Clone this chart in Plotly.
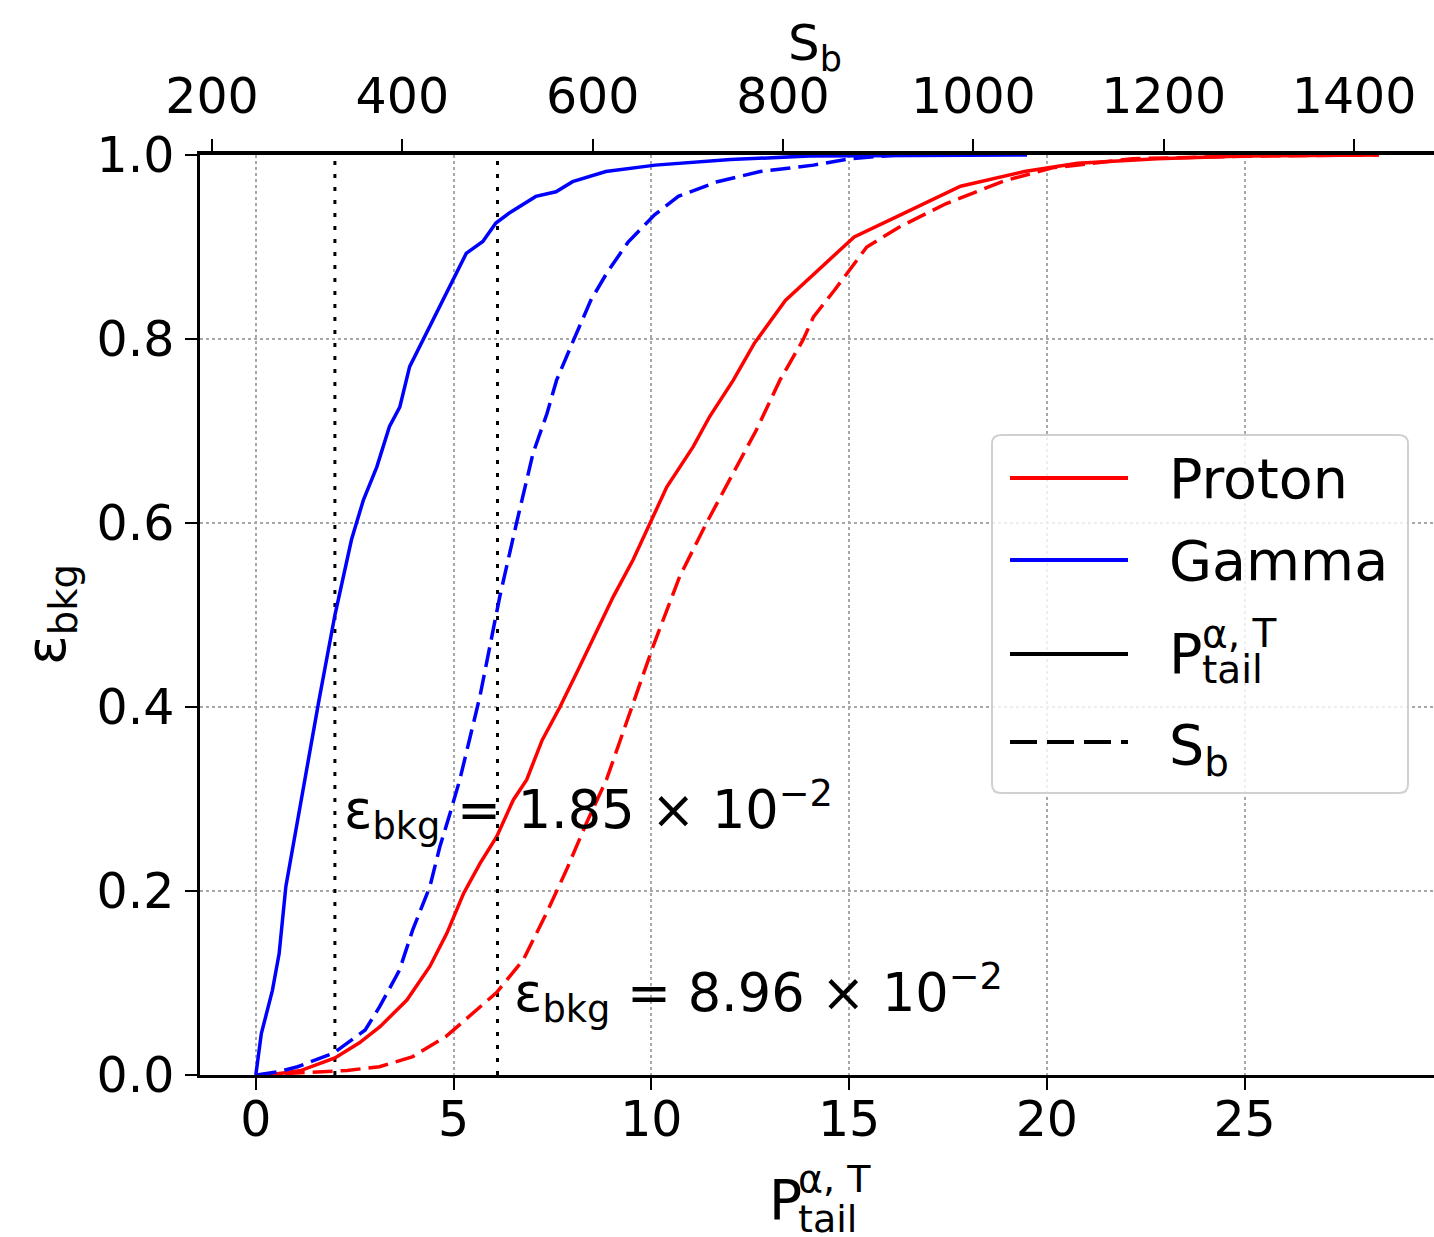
import plotly.graph_objects as go

# ---------------- data ----------------
gamma_p_x = [0, 0.14, 0.42, 0.59, 0.76, 1.04, 1.32, 1.60, 2.0, 2.42, 2.72, 3.06, 3.38, 3.64, 3.89,
             4.23, 4.65, 5.07, 5.32, 5.74, 6.07, 6.41, 7.08, 7.59, 8.01, 8.85, 10.1, 12.0, 14.0, 19.5]
gamma_p_y = [0, 0.045, 0.092, 0.132, 0.205, 0.274, 0.342, 0.408, 0.50, 0.582, 0.625, 0.661, 0.705, 0.726, 0.770,
             0.799, 0.835, 0.871, 0.893, 0.906, 0.926, 0.937, 0.955, 0.960, 0.971, 0.982, 0.989, 0.995, 0.999, 1.0]

gamma_s_x = [247, 272, 290, 328, 361, 376, 397, 411, 429, 439.4, 450, 460.4, 481.4, 502.4, 520, 537.4, 552,
             562, 580, 598, 615, 637, 665, 690, 731, 776, 832, 871, 920]
gamma_s_y = [0, 0.004, 0.009, 0.024, 0.049, 0.074, 0.114, 0.158, 0.205, 0.248, 0.284, 0.321, 0.411, 0.52,
             0.60, 0.676, 0.719, 0.755, 0.799, 0.842, 0.872, 0.905, 0.935, 0.955, 0.971, 0.982, 0.989, 0.996, 1.0]

proton_p_x = [0, 0.5, 1.15, 2.0, 2.62, 3.14, 3.82, 4.4, 4.83, 5.25, 5.67, 6.09, 6.51, 6.85, 7.24, 7.69, 8.19,
              9.04, 9.54, 10.01, 10.39, 11.06, 11.48, 12.07, 12.6, 13.39, 14.33, 15.13, 16.21, 17.82, 19.43,
              20.78, 22.79, 25.0, 28.4]
proton_p_y = [0, 0.001, 0.005, 0.0185, 0.035, 0.0525, 0.0815, 0.118, 0.154, 0.197, 0.23, 0.259, 0.299, 0.321,
              0.364, 0.40, 0.444, 0.52, 0.56, 0.603, 0.639, 0.683, 0.716, 0.755, 0.795, 0.842, 0.879, 0.911, 0.933,
              0.966, 0.982, 0.991, 0.996, 0.999, 1.0]

proton_s_x = [247, 295, 342, 376, 411, 446, 474, 499, 527, 551.5, 572.5, 593.5, 614.5, 639, 663.5, 691.5,
              719.6, 747.5, 772, 796.6, 821, 832, 854, 888, 921, 971, 1033, 1083, 1167, 1300, 1425]
proton_s_y = [0, 0.0025, 0.005, 0.009, 0.02, 0.042, 0.067, 0.0896, 0.125, 0.176, 0.223, 0.274, 0.321, 0.393,
              0.466, 0.542, 0.60, 0.654, 0.701, 0.755, 0.799, 0.824, 0.853, 0.90, 0.921, 0.947, 0.972, 0.986,
              0.996, 0.999, 1.0]

p_cut = 2.0
s_cut = 500
eff_p_text = "ε<sub>bkg</sub> = 1.85 × 10<sup>−2</sup>"
eff_s_text = "ε<sub>bkg</sub> = 8.96 × 10<sup>−2</sup>"

x_ticks = [0, 5, 10, 15, 20, 25]
x2_ticks = [200, 400, 600, 800, 1000, 1200, 1400]
y_ticks = [0.0, 0.2, 0.4, 0.6, 0.8, 1.0]

legend_labels = ["Proton", "Gamma"]

# ---------------- layout geometry ----------------
W, H = 1434, 1237
L, R, T, B = 200, 0, 155, 162
PW, PH = W - L - R, H - T - B
FONT = "DejaVu Sans"
RED, BLUE = "#ff0000", "#0000ff"
LW = 3.5
DASH = "20px,8px"


def px(x):
    return (x - L) / PW


def py(y):
    return (H - B - y) / PH


fig = go.Figure()

# vertical cut lines
fig.add_trace(go.Scatter(x=[p_cut, p_cut], y=[0, 1], mode="lines", xaxis="x", yaxis="y",
                         line=dict(color="black", width=3, dash="4px,9px"), showlegend=False))
fig.add_trace(go.Scatter(x=[s_cut, s_cut], y=[0, 1], mode="lines", xaxis="x2", yaxis="y",
                         line=dict(color="black", width=3, dash="4px,9px"), showlegend=False))

fig.add_trace(go.Scatter(x=proton_p_x, y=proton_p_y, mode="lines", xaxis="x", yaxis="y",
                         line=dict(color=RED, width=LW), showlegend=False))
fig.add_trace(go.Scatter(x=gamma_p_x, y=gamma_p_y, mode="lines", xaxis="x", yaxis="y",
                         line=dict(color=BLUE, width=LW), showlegend=False))
fig.add_trace(go.Scatter(x=proton_s_x, y=proton_s_y, mode="lines", xaxis="x2", yaxis="y",
                         line=dict(color=RED, width=LW, dash=DASH), showlegend=False))
fig.add_trace(go.Scatter(x=gamma_s_x, y=gamma_s_y, mode="lines", xaxis="x2", yaxis="y",
                         line=dict(color=BLUE, width=LW, dash=DASH), showlegend=False))

tickfont = dict(family=FONT, size=49, color="black")
grid = dict(showgrid=True, gridcolor="#a8a8a8", gridwidth=2, griddash="3px,3px")

fig.update_layout(
    width=W, height=H,
    margin=dict(l=L, r=R, t=T, b=B, pad=0),
    paper_bgcolor="white", plot_bgcolor="white",
    showlegend=False,
    font=dict(family=FONT, color="black"),
    xaxis=dict(range=[-1.411, 29.79], tickvals=x_ticks, ticks="outside", ticklen=12, tickwidth=2,
               tickcolor="black", showline=True, linecolor="black", linewidth=2.5, zeroline=False,
               tickfont=tickfont, ticklabelstandoff=-13, **grid),
    xaxis2=dict(range=[187.4, 1484], tickvals=x2_ticks, overlaying="x", side="top", anchor="y",
                ticks="outside", ticklen=12, tickwidth=2, tickcolor="black", showline=True,
                linecolor="black", linewidth=3.5, zeroline=False, showgrid=False, tickfont=tickfont,
                ticklabelstandoff=7),
    yaxis=dict(range=[0, 1], tickvals=y_ticks, tickformat=".1f", ticks="outside", ticklen=12, tickwidth=2,
               tickcolor="black", showline=True, linecolor="black", linewidth=2.5, zeroline=False,
               tickfont=tickfont, ticklabelstandoff=1, **grid),
)

ann = []
# efficiency annotations
ann.append(dict(x=2.18, y=0.288, xref="x", yref="y", text=eff_p_text, showarrow=False,
                xanchor="left", yanchor="middle", font=dict(family=FONT, size=52.5, color="black")))
ann.append(dict(x=6.48, y=0.089, xref="x", yref="y", text=eff_s_text, showarrow=False,
                xanchor="left", yanchor="middle", font=dict(family=FONT, size=52.5, color="black")))

# axis titles
ann.append(dict(x=px(815), y=py(46), xref="paper", yref="paper", text="S<sub>b</sub>", showarrow=False,
                xanchor="center", yanchor="middle", font=dict(family=FONT, size=50)))
ann.append(dict(x=px(50), y=py(615), xref="paper", yref="paper", text="ε<sub>bkg</sub>", showarrow=False,
                textangle=-90, xanchor="center", yanchor="middle", font=dict(family=FONT, size=55)))
# bottom title P^{α,T}_{tail}
ann.append(dict(x=px(767), y=py(1200), xref="paper", yref="paper", text="P", showarrow=False,
                xanchor="left", yanchor="middle", font=dict(family=FONT, size=55)))
ann.append(dict(x=px(796), y=py(1179), xref="paper", yref="paper", text="α, T", showarrow=False,
                xanchor="left", yanchor="middle", font=dict(family=FONT, size=38)))
ann.append(dict(x=px(796), y=py(1219), xref="paper", yref="paper", text="tail", showarrow=False,
                xanchor="left", yanchor="middle", font=dict(family=FONT, size=38)))

# ---------------- manual legend ----------------
shapes = []
bx0, bx1, by0, by1 = 992, 1408, 435, 793
r = 9
rx, ry = r / PW, r / PH
X0, X1, Y0, Y1 = px(bx0), px(bx1), py(by1), py(by0)
path = (f"M {X0+rx},{Y0} L {X1-rx},{Y0} Q {X1},{Y0} {X1},{Y0+ry} L {X1},{Y1-ry} Q {X1},{Y1} {X1-rx},{Y1} "
        f"L {X0+rx},{Y1} Q {X0},{Y1} {X0},{Y1-ry} L {X0},{Y0+ry} Q {X0},{Y0} {X0+rx},{Y0} Z")
shapes.append(dict(type="path", path=path, xref="paper", yref="paper",
                   line=dict(color="#d0d0d0", width=2), fillcolor="rgba(255,255,255,0.8)", layer="above"))

legend_items = [(legend_labels[0], RED, "solid", 478),
                (legend_labels[1], BLUE, "solid", 560),
                (None, "black", "solid", 654),
                (None, "black", "27px,10px", 742)]
for lab, col, dash, yy in legend_items:
    shapes.append(dict(type="line", xref="paper", yref="paper", x0=px(1010), x1=px(1128), y0=py(yy), y1=py(yy),
                       line=dict(color=col, width=4, dash=dash), layer="above"))

LF = 55.5
ann.append(dict(x=px(1167), y=py(479), xref="paper", yref="paper", text=legend_labels[0], showarrow=False,
                xanchor="left", yanchor="middle", font=dict(family=FONT, size=LF)))
ann.append(dict(x=px(1167), y=py(560), xref="paper", yref="paper", text=legend_labels[1], showarrow=False,
                xanchor="left", yanchor="middle", font=dict(family=FONT, size=LF)))
ann.append(dict(x=px(1167), y=py(653), xref="paper", yref="paper", text="P", showarrow=False,
                xanchor="left", yanchor="middle", font=dict(family=FONT, size=LF)))
ann.append(dict(x=px(1200), y=py(633), xref="paper", yref="paper", text="α, T", showarrow=False,
                xanchor="left", yanchor="middle", font=dict(family=FONT, size=39)))
ann.append(dict(x=px(1200), y=py(670), xref="paper", yref="paper", text="tail", showarrow=False,
                xanchor="left", yanchor="middle", font=dict(family=FONT, size=39)))
ann.append(dict(x=px(1167), y=py(748), xref="paper", yref="paper", text="S<sub>b</sub>", showarrow=False,
                xanchor="left", yanchor="middle", font=dict(family=FONT, size=LF)))

fig.update_layout(annotations=ann, shapes=shapes)
fig.write_html("out.html")
